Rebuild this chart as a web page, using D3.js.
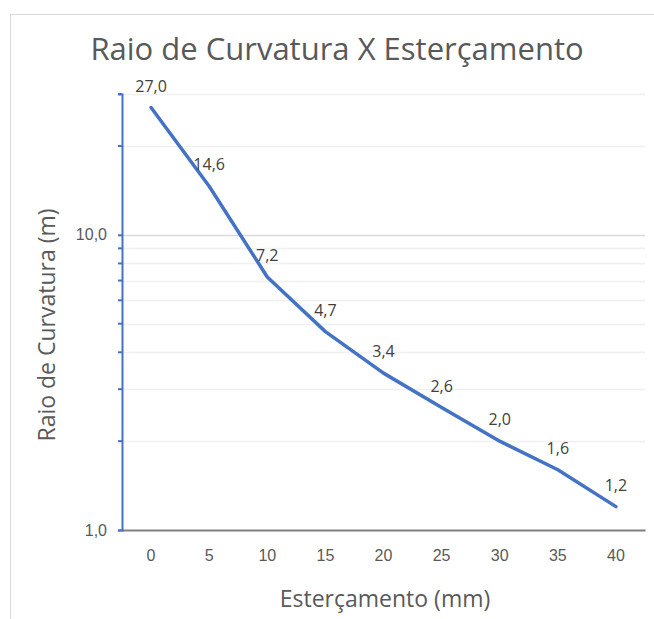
<!DOCTYPE html>
<html>
<head>
<meta charset="utf-8">
<script src="https://cdn.jsdelivr.net/npm/d3@7"></script>
<style>
  html, body { margin: 0; padding: 0; background: #fff; }
  svg { display: block; font-family: "Open Sans", "Noto Sans", sans-serif; }
</style>
</head>
<body>
<svg id="chart" width="654" height="619"></svg>
<script>
// Steering travel (mm) and resulting curvature radius (m)
const categories = ["0", "5", "10", "15", "20", "25", "30", "35", "40"];
const radius = [27.0, 14.6, 7.2, 4.7, 3.4, 2.6, 2.0, 1.6, 1.2];
const majorTicks = [1, 10];
const minorTicks = [2, 3, 4, 5, 6, 7, 8, 9, 20, 30];

const svg = d3.select("#chart");
const W = 654, H = 619;
const plot = { left: 122, right: 645, top: 94, bottom: 530 };

// Outer chart frame
svg.append("rect")
  .attr("x", 10.5).attr("y", 14.5)
  .attr("width", W + 10).attr("height", H + 10)
  .attr("fill", "#fff").attr("stroke", "#d9d9d9");

const x = d3.scaleBand().domain(categories)
  .range([plot.left, plot.right]).paddingInner(0).paddingOuter(0);
const y = d3.scaleLog().domain([1, 30]).range([plot.bottom, plot.top]);

// Gridlines
svg.append("g").selectAll("line").data(minorTicks).join("line")
  .attr("x1", plot.left).attr("x2", plot.right)
  .attr("y1", d => Math.round(y(d)) + 0.5).attr("y2", d => Math.round(y(d)) + 0.5)
  .attr("stroke", "#f0f0f0").attr("stroke-width", 1.3);
svg.append("g").selectAll("line").data([10]).join("line")
  .attr("x1", plot.left).attr("x2", plot.right)
  .attr("y1", d => Math.round(y(d)) + 0.5).attr("y2", d => Math.round(y(d)) + 0.5)
  .attr("stroke", "#d9d9d9").attr("stroke-width", 1.3);

// X axis
const xAxis = svg.append("g")
  .attr("transform", `translate(0,${plot.bottom})`)
  .call(d3.axisBottom(x).tickSize(0).tickPadding(20));
xAxis.select(".domain").attr("stroke", "#7f7f7f").attr("stroke-width", 2);
xAxis.selectAll("text").attr("fill", "#595959").attr("font-size", 16);

// Y axis (log)
const fmt = d => d3.format(".1f")(d).replace(".", ",");
const yAxis = svg.append("g")
  .attr("transform", `translate(${plot.left},0)`)
  .call(d3.axisLeft(y).tickValues(majorTicks).tickFormat(fmt).tickSize(4).tickPadding(11));
yAxis.select(".domain").attr("stroke", "#4472c4").attr("stroke-width", 2);
yAxis.selectAll(".tick line").attr("stroke", "#4472c4").attr("stroke-width", 2);
yAxis.selectAll("text").attr("fill", "#595959").attr("font-size", 16);
svg.append("g").selectAll("line").data(minorTicks).join("line")
  .attr("x1", plot.left - 4).attr("x2", plot.left)
  .attr("y1", d => y(d)).attr("y2", d => y(d))
  .attr("stroke", "#4472c4").attr("stroke-width", 2);

// Series line
const pts = categories.map((c, i) => [x(c) + x.bandwidth() / 2, y(radius[i])]);
svg.append("path")
  .attr("d", d3.line()(pts))
  .attr("fill", "none").attr("stroke", "#4472c4")
  .attr("stroke-width", 3.5).attr("stroke-linejoin", "round").attr("stroke-linecap", "round");

// Data labels
svg.append("g").selectAll("text").data(radius).join("text")
  .attr("x", (d, i) => pts[i][0])
  .attr("y", (d, i) => pts[i][1] - 16)
  .attr("text-anchor", "middle")
  .attr("fill", "#404040").attr("font-size", 16)
  .text(fmt);

// Titles
svg.append("text").attr("x", 337).attr("y", 60)
  .attr("text-anchor", "middle").attr("fill", "#595959")
  .attr("font-size", 31).text("Raio de Curvatura X Esterçamento");
svg.append("text").attr("x", 385).attr("y", 607)
  .attr("text-anchor", "middle").attr("fill", "#595959")
  .attr("font-size", 23).text("Esterçamento (mm)");
svg.append("text")
  .attr("transform", "translate(55,325) rotate(-90)")
  .attr("text-anchor", "middle").attr("fill", "#595959")
  .attr("font-size", 23).text("Raio de Curvatura (m)");
</script>
</body>
</html>
